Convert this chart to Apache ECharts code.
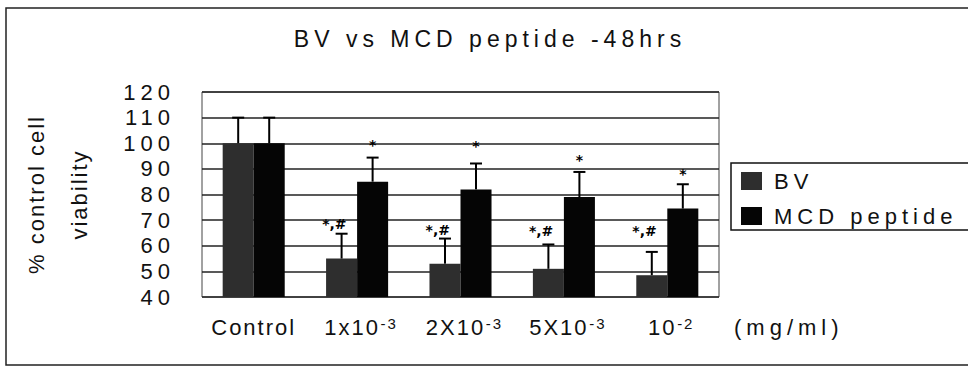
<!DOCTYPE html>
<html>
<head>
<meta charset="utf-8">
<script src="https://cdn.jsdelivr.net/npm/echarts@6/dist/echarts.min.js"></script>
<style>
  html, body { margin: 0; padding: 0; background: #fff; }
  #chart { width: 968px; height: 368px; }
  /* the scanned figure uses a widely spaced font */
  #chart text[style*="Liberation"] { letter-spacing: 5px; }
  #chart text[style*="Arial"] { letter-spacing: 2px; }
</style>
</head>
<body>
<div id="chart"></div>
<script>
const categories = ['Control', '1x10', '2X10', '5X10', '10'];
const exponents = ['', '-3', '-3', '-3', '-2'];
const bvValues = [100, 55, 53, 51, 48.5];
const mcdValues = [100, 85, 82, 79, 74.5];
const bvErrors = [10, 9.7, 9.8, 9.5, 9.1];
const mcdErrors = [10, 9.4, 10.1, 9.8, 9.5];
// significance marks: '*' over MCD bars, '*,#' beside BV bars
const mcdStars = [null, 101, 100.5, 95, 89.6];
const bvMarks = [null, 70, 67.7, 67.3, 67.3];

const FONT = 'Liberation Sans';
const LABEL_FONT = 'Arial';
const measureCtx = document.createElement('canvas').getContext('2d');
function spacedWidth(text, size, family, spacing) {
  measureCtx.font = size + 'px "' + family + '"';
  return Math.ceil(measureCtx.measureText(text).width + spacing * text.length);
}

const rich = { p: { width: 8, fontSize: 22, lineHeight: 22 } };
categories.forEach((c, i) => {
  rich['b' + i] = {
    fontFamily: LABEL_FONT, fontSize: 22, lineHeight: 22, color: '#111',
    width: spacedWidth(c, 22, LABEL_FONT, 2)
  };
  if (exponents[i]) {
    rich['s' + i] = {
      fontFamily: LABEL_FONT, fontSize: 15, lineHeight: 15, color: '#111',
      verticalAlign: 'top', width: spacedWidth(exponents[i], 15, LABEL_FONT, 2)
    };
  }
});

function errorSeries(name, values, errors, side) {
  return {
    type: 'custom',
    name: name,
    z: 4,
    silent: true,
    itemStyle: { color: '#000' },
    data: values.map((v, i) => [i, v + errors[i], v]),
    renderItem(params, api) {
      const band = api.size([1, 0])[0];
      const top = api.coord([api.value(0), api.value(1)]);
      const base = api.coord([api.value(0), api.value(2)]);
      const x = top[0] + side * band * 0.15;
      const style = { stroke: '#000', lineWidth: 2 };
      return {
        type: 'group',
        children: [
          { type: 'line', shape: { x1: x, y1: base[1], x2: x, y2: top[1] }, style },
          { type: 'line', shape: { x1: x - 6, y1: top[1], x2: x + 6, y2: top[1] }, style }
        ]
      };
    }
  };
}

function markSeries(name, marks, text, shift) {
  const data = [];
  marks.forEach((v, i) => { if (v != null) data.push([i, v]); });
  return {
    type: 'custom',
    name: name,
    z: 5,
    silent: true,
    itemStyle: { color: '#000' },
    data,
    renderItem(params, api) {
      const band = api.size([1, 0])[0];
      const p = api.coord([api.value(0), api.value(1)]);
      return {
        type: 'text',
        x: p[0] + band * shift,
        y: p[1] + 4,
        style: {
          text,
          fontFamily: 'DejaVu Sans',
          fontWeight: 'bold',
          fontSize: 14,
          align: 'center',
          verticalAlign: 'middle',
          fill: '#000'
        }
      };
    }
  };
}

const chart = echarts.init(document.getElementById('chart'), null, { renderer: 'svg' });
chart.setOption({
  animation: false,
  backgroundColor: '#fff',
  color: ['#2e2e2e', '#050505'],
  title: {
    text: 'BV vs MCD peptide -48hrs',
    left: 490,
    top: 27,
    padding: 0,
    textAlign: 'center',
    textStyle: { fontFamily: FONT, fontSize: 23, fontWeight: 'normal', color: '#111' }
  },
  legend: {
    data: ['BV', 'MCD peptide'],
    orient: 'vertical',
    left: 731,
    top: 163,
    padding: [7, 80, 3, 10],
    icon: 'rect',
    itemWidth: 21,
    itemHeight: 18,
    itemGap: 13,
    borderColor: '#111',
    borderWidth: 1.5,
    textStyle: { fontFamily: FONT, fontSize: 22, color: '#111', padding: [0, 0, 0, 7] }
  },
  graphic: [
    {
      type: 'rect',
      z: -10,
      shape: { x: 6, y: 8, width: 990, height: 357 },
      style: { fill: 'none', stroke: '#222', lineWidth: 1.5 }
    },
    {
      type: 'text',
      x: 734,
      y: 327,
      style: {
        text: '(mg/ml)',
        fontFamily: FONT,
        fontSize: 22,
        fill: '#111',
        align: 'left',
        verticalAlign: 'middle'
      }
    }
  ],
  grid: {
    left: 202,
    right: 249,
    top: 92,
    bottom: 71,
    show: true,
    borderColor: '#444',
    borderWidth: 1
  },
  xAxis: {
    type: 'category',
    data: categories,
    axisLine: { show: false },
    axisTick: { show: false },
    axisLabel: {
      margin: 19,
      interval: 0,
      rich,
      formatter: (value, idx) => exponents[idx]
        ? '{p| }{b' + idx + '|' + value + '}{s' + idx + '|' + exponents[idx] + '}'
        : '{b' + idx + '|' + value + '}'
    }
  },
  yAxis: {
    type: 'value',
    min: 40,
    max: 120,
    interval: 10,
    name: '% control cell\nviability',
    nameLocation: 'middle',
    nameGap: 101,
    nameTextStyle: { fontFamily: 'Arial', fontSize: 22, lineHeight: 43, color: '#111' },
    axisLine: { show: false },
    axisTick: { show: false },
    axisLabel: { fontFamily: FONT, fontSize: 22, color: '#111', margin: 27 },
    splitLine: { lineStyle: { color: '#222', width: 1.5 } }
  },
  series: [
    {
      name: 'BV',
      type: 'bar',
      data: bvValues,
      barGap: '0%',
      barCategoryGap: '40%',
      z: 2
    },
    {
      name: 'MCD peptide',
      type: 'bar',
      data: mcdValues,
      barGap: '0%',
      barCategoryGap: '40%',
      z: 2
    },
    errorSeries('BV error', bvValues, bvErrors, -1),
    errorSeries('MCD error', mcdValues, mcdErrors, 1),
    markSeries('MCD significance', mcdStars, '*', 0.15),
    markSeries('BV significance', bvMarks, '*,#', -0.22)
  ]
});
</script>
</body>
</html>
